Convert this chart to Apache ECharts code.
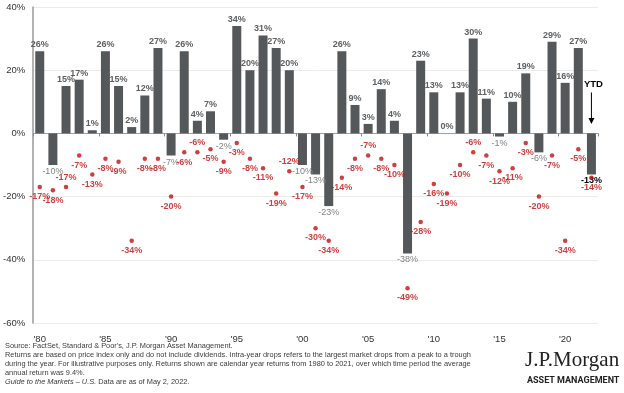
<!DOCTYPE html>
<html>
<head>
<meta charset="utf-8">
<script src="https://cdn.jsdelivr.net/npm/echarts@6/dist/echarts.min.js"></script>
<style>
html,body{margin:0;padding:0;background:#fff;}
#chart{width:624px;height:393px;}
</style>
</head>
<body>
<div id="chart"></div>
<script>
// Calendar years (categories)
const years = [1980,1981,1982,1983,1984,1985,1986,1987,1988,1989,
  1990,1991,1992,1993,1994,1995,1996,1997,1998,1999,
  2000,2001,2002,2003,2004,2005,2006,2007,2008,2009,
  2010,2011,2012,2013,2014,2015,2016,2017,2018,2019,
  2020,2021,2022];
// Calendar-year returns (%)
const annualReturns = [26,-10,15,17,1,26,15,2,12,27,
  -7,26,4,7,-2,34,20,31,27,20,
  -10,-13,-23,26,9,3,14,4,-38,23,
  13,0,13,30,11,-1,10,19,-6,29,
  16,27,-13];
// Intra-year drops (%)
const intraYearDrops = [-17,-18,-17,-7,-13,-8,-9,-34,-8,-8,
  -20,-6,-6,-5,-9,-3,-8,-11,-19,-12,
  -17,-30,-34,-14,-8,-7,-8,-10,-49,-28,
  -16,-19,-10,-6,-7,-12,-11,-3,-20,-7,
  -34,-5,-14];
// Years whose drop label sits above the dot
const dropLabelAbove = [1982,1992,1999,2005,2013];
// Axis tick labels
const xTickLabels = ["'80","'85","'90","'95","'00","'05","'10","'15","'20"];
const yTicks = [-60,-40,-20,0,20,40];

const chart = echarts.init(document.getElementById('chart'), null, {renderer:'canvas'});
const FONT = 'Liberation Sans';
const RED = '#c40f0f';
const BAR = '#55585b';

const barData = annualReturns.map((v,i)=>{
  const last = i === annualReturns.length-1;
  return {
    value: v,
    label: {
      position: v >= 0 ? 'top' : 'bottom',
      color: last ? '#000' : (v >= 0 ? '#5f6062' : '#808285'),
      fontWeight: (last || v >= 0) ? 'bold' : 'normal'
    }
  };
});
const dropData = intraYearDrops.map((v,i)=>({
  value: v,
  label: { position: dropLabelAbove.includes(years[i]) ? 'top' : 'bottom' }
}));

const cats = years.map(String);

chart.setOption({
  animation: false,
  backgroundColor: '#fff',
  grid: { left: 33, top: 7, width: 565, height: 316, containLabel: false },
  xAxis: [
    {
      type: 'category', data: cats, position: 'bottom',
      axisLine: { show: false, onZero: false },
      axisTick: { show: false },
      axisLabel: {
        interval: 4, margin: 11, fontFamily: FONT, fontSize: 9.5, color: '#333',
        formatter: (v, i) => xTickLabels[i/5] || ''
      },
      splitLine: { show: false }
    },
    {
      type: 'category', data: cats, position: 'bottom',
      axisLine: { show: true, onZero: true, lineStyle: { color: '#a0a0a0', width: 1 } },
      axisTick: { show: true, interval: 4, length: 3, lineStyle: { color: '#888' } },
      axisLabel: { show: false },
      splitLine: { show: false }
    }
  ],
  yAxis: {
    type: 'value', min: yTicks[0], max: yTicks[yTicks.length-1], interval: 20,
    axisLine: { show: true, lineStyle: { color: '#999', width: 1.5 } },
    axisTick: { show: false },
    axisLabel: { formatter: '{value}%', fontFamily: FONT, fontSize: 9.5, color: '#333', margin: 8 },
    splitLine: { show: true, lineStyle: { color: '#ebebeb', width: 1 } }
  },
  series: [
    {
      type: 'bar', data: barData, barWidth: 9, xAxisIndex: 0,
      itemStyle: { color: BAR },
      label: { show: true, formatter: '{c}%', fontFamily: FONT, fontSize: 9, distance: 2 },
      z: 2
    },
    {
      type: 'scatter', data: dropData, xAxisIndex: 0,
      symbol: 'circle', symbolSize: 4.5,
      itemStyle: { color: RED },
      label: { show: true, formatter: '{c}%', fontFamily: FONT, fontSize: 9, fontWeight: 'bold', color: RED, distance: 3 },
      z: 3
    }
  ]
});

// YTD annotation above the last bar
const lastIdx = years.length - 1;
const pTop = chart.convertToPixel({xAxisIndex:0, yAxisIndex:0}, [lastIdx, 12]);
const pBot = chart.convertToPixel({xAxisIndex:0, yAxisIndex:0}, [lastIdx, 3]);

const footStyle = { fontFamily: FONT, fontSize: 7.4, fill: '#3a3a3a' };
chart.setOption({
  graphic: [
    { type: 'text', x: pTop[0]+2, y: pTop[1]-6, style: { text: 'YTD', fontFamily: FONT, fontSize: 9.5, fontWeight: 'bold', fill: '#000', align: 'center', verticalAlign: 'bottom' } },
    { type: 'line', shape: { x1: pTop[0], y1: pTop[1]-3, x2: pBot[0], y2: pBot[1]-2 }, style: { stroke: '#000', lineWidth: 1 } },
    { type: 'polygon', shape: { points: [[pBot[0]-3, pBot[1]-6],[pBot[0]+3, pBot[1]-6],[pBot[0], pBot[1]]] }, style: { fill: '#000' } },
    { type: 'text', x: 5, y: 342, style: Object.assign({ text: "Source: FactSet, Standard & Poor's, J.P. Morgan Asset Management." }, footStyle) },
    { type: 'text', x: 5, y: 351, style: Object.assign({ text: 'Returns are based on price index only and do not include dividends. Intra-year drops refers to the largest market drops from a peak to a trough' }, footStyle) },
    { type: 'text', x: 5, y: 360, style: Object.assign({ text: 'during the year. For illustrative purposes only. Returns shown are calendar year returns from 1980 to 2021, over which time period the average' }, footStyle) },
    { type: 'text', x: 5, y: 369, style: Object.assign({ text: 'annual return was 9.4%.' }, footStyle) },
    { type: 'text', x: 5, y: 378, style: Object.assign({
        text: '{i|Guide to the Markets – U.S.} Data are as of May 2, 2022.',
        rich: { i: { fontStyle: 'italic', fontFamily: FONT, fontSize: 7.4, fill: '#3a3a3a' } }
      }, footStyle) },
    { type: 'text', x: 525, y: 350, style: { text: 'J.P.Morgan', fontFamily: 'Liberation Serif', fontSize: 21, fill: '#222' } },
    { type: 'text', x: 527, y: 376, style: { text: 'ASSET MANAGEMENT', fontFamily: 'Roboto', fontSize: 9, fontWeight: 'bold', fill: '#222' } }
  ]
});
</script>
</body>
</html>
